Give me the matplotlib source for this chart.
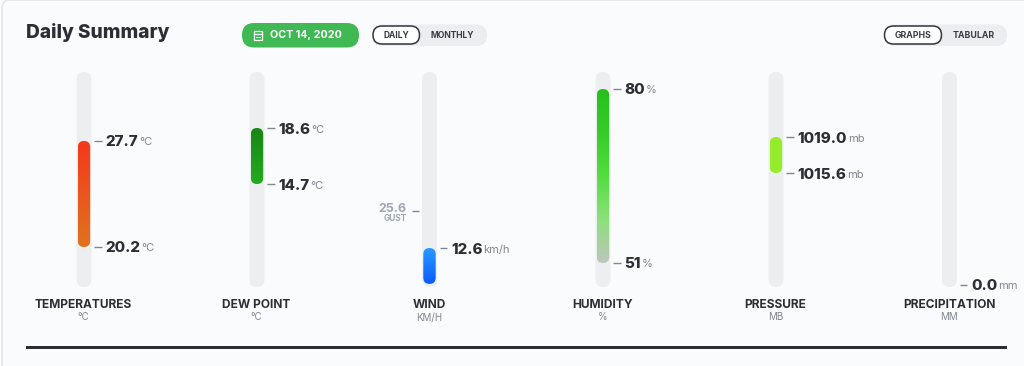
import matplotlib
matplotlib.use("Agg")
import matplotlib.pyplot as plt
import numpy as np
from matplotlib.colors import LinearSegmentedColormap
from matplotlib.patches import FancyBboxPatch, Rectangle
from matplotlib.transforms import IdentityTransform

plt.rcParams['font.family'] = ['Inter', 'DejaVu Sans']

# values
names = ['TEMPERATURES', 'DEW POINT', 'WIND', 'HUMIDITY', 'PRESSURE', 'PRECIPITATION']
subs = ['°C', '°C', 'KM/H', '%', 'MB', 'MM']
units = ['°C', '°C', 'km/h', '%', 'mb', 'mm']
highs = [27.7, 18.6, 12.6, 80, 1019.0, 0.0]
lows = [20.2, 14.7, 0, 51, 1015.6, 0.0]
high_labels = ['27.7', '18.6', '12.6', '80', '1019.0', '0.0']
low_labels = ['20.2', '14.7', None, '51', '1015.6', None]
gust = 25.6
wind_index = 2

# value range of each track, top and bottom
range_top = [32.58, 22.5, 74.35, 82.83, 1025.14, 100]
range_bottom = [17.37, 7.53, -1.08, 47, 1004.84, -0.94]

bar_colors = [
    ['#f5381c', '#df731f'],
    ['#198515', '#23ab1f'],
    ['#2a9aff', '#0a5aff'],
    ['#26c01c', '#35cc28', '#52de40', '#8ce07a', '#bcc6bc'],
    ['#96ec2c', '#96ec2c'],
    None,
]

centers = [84, 257, 429.5, 603, 776, 949.5]

W, H = 1024, 366
BG = '#fafbfd'
DARK = '#2c2e35'
GREY = '#81868f'
TRACK = '#edeef0'

fig = plt.figure(figsize=(W / 100, H / 100), dpi=100, facecolor='white')
main = fig.add_axes([0, 0, 1, 1])
main.set_xlim(0, W)
main.set_ylim(H, 0)
main.axis('off')


def pill(x0, y0, x1, y1, color, edge='none', lw=0, z=2):
    r = (y1 - y0) / 2
    p = FancyBboxPatch((x0 + r, y0 + r), x1 - x0 - 2 * r, 0,
                       boxstyle='round,pad=%f,rounding_size=%f' % (r, r),
                       fc=color, ec=edge, lw=lw, zorder=z)
    main.add_patch(p)


# card
card = FancyBboxPatch((10, 8), W + 30, H + 30, boxstyle='round,pad=8,rounding_size=8',
                      fc=BG, ec='#e6e7ea', lw=1.2, zorder=1)
main.add_patch(card)

main.text(26, 32.5, 'Daily Summary', fontsize=13.7, fontweight=800, color=DARK,
          va='center', ha='left', zorder=3)

# date button
pill(242, 23, 359, 47.5, '#40b955')
main.add_patch(Rectangle((253.5, 31), 8, 9, fc='none', ec='white', lw=0.9, zorder=3))
main.plot([253.5, 261.5], [33.5, 33.5], color='white', lw=0.9, zorder=3)
main.plot([255.5, 259.5], [36.5, 36.5], color='white', lw=0.7, zorder=3)
main.text(270, 35.5, 'OCT 14, 2020', fontsize=7.7, fontweight='bold', color='white',
          va='center', ha='left', zorder=3)

# toggles
pill(372, 24.5, 487, 46, '#ecedf0')
pill(373, 26, 419.5, 44, 'white', edge='#33363d', lw=1.1, z=3)
main.text(396, 35.5, 'DAILY', fontsize=6.1, fontweight='bold', color='#3a3d44',
          va='center', ha='center', zorder=4)
main.text(452.5, 35.5, 'MONTHLY', fontsize=6.1, fontweight='bold', color='#3a3d44',
          va='center', ha='center', zorder=4)

pill(883.5, 24.5, 1007, 46, '#ecedf0')
pill(884.5, 26, 941.5, 44, 'white', edge='#33363d', lw=1.1, z=3)
main.text(913, 35.5, 'GRAPHS', fontsize=6.3, fontweight='bold', color='#3a3d44',
          va='center', ha='center', zorder=4)
main.text(973.5, 35.5, 'TABULAR', fontsize=6.3, fontweight='bold', color='#3a3d44',
          va='center', ha='center', zorder=4)

# bottom rule
main.add_patch(Rectangle((26, 346), 981, 3, fc=DARK, ec='none', zorder=3))

# tracks and captions
TRACK_TOP, TRACK_BOTTOM = 72, 287
for c, name, sub in zip(centers, names, subs):
    r = 7.5
    main.add_patch(FancyBboxPatch((c - r + r, TRACK_TOP + r), 0, TRACK_BOTTOM - TRACK_TOP - 2 * r,
                                  boxstyle='round,pad=%f,rounding_size=%f' % (r, r),
                                  fc=TRACK, ec='none', zorder=2))
    main.text(c - 1 if name == 'TEMPERATURES' else c - 0.5, 304.5, name, fontsize=8.6, fontweight='bold',
              color=DARK, va='center', ha='center', zorder=3)
    main.text(c - 0.5, 317.5, sub, fontsize=7, color=GREY, va='center', ha='center', zorder=3)

renderer = fig.canvas.get_renderer()


def reading(ax, y, label, unit):
    # dash, bold number, small unit
    ax.plot([10, 17.5], [y, y], color=GREY, lw=1, clip_on=False, solid_capstyle='butt')
    t = ax.annotate(label, xy=(21.5, y), xytext=(0, -1.5), textcoords='offset pixels',
                    fontsize=10.9, fontweight=800, color=DARK, va='center', ha='left',
                    annotation_clip=False)
    left = ax.transData.transform((-7.5, y))[0]
    x = t.get_window_extent(renderer).x1 - left - 7.5 + 1
    ax.annotate(unit, xy=(x, y), xytext=(0, -1.5), textcoords='offset pixels',
                fontsize=8, color=GREY, va='center', ha='left', annotation_clip=False)


for i, c in enumerate(centers):
    ax = fig.add_axes([(c - 7.5) / W, 1 - TRACK_BOTTOM / H, 15 / W, (TRACK_BOTTOM - TRACK_TOP) / H])
    ax.patch.set_alpha(0)
    ax.axis('off')
    ax.set_xlim(-7.5, 7.5)
    ax.set_ylim(range_bottom[i], range_top[i])

    if bar_colors[i] is not None:
        cmap = LinearSegmentedColormap.from_list('bar%d' % i, bar_colors[i])
        img = ax.imshow(np.linspace(0, 1, 128).reshape(-1, 1), cmap=cmap, aspect='auto',
                        extent=[-6.2, 6.2, lows[i], highs[i]], origin='upper', zorder=3)
        ax.set_xlim(-7.5, 7.5)
        ax.set_ylim(range_bottom[i], range_top[i])
        # round the ends, in pixels
        (x0, y0), (x1, y1) = ax.transData.transform([(-6.2, lows[i]), (6.2, highs[i])])
        r = (x1 - x0) / 2
        clip = FancyBboxPatch((x0 + r, y0 + r), 0, y1 - y0 - 2 * r,
                              boxstyle='round,pad=%f,rounding_size=%f' % (r, r),
                              transform=IdentityTransform())
        img.set_clip_path(clip)

    reading(ax, highs[i], high_labels[i], units[i])
    if low_labels[i] is not None:
        reading(ax, lows[i], low_labels[i], units[i])

    if i == wind_index:
        ax.plot([-17.5, -10.5], [gust, gust], color=GREY, lw=1, clip_on=False, solid_capstyle='butt')
        ax.annotate('%.1f' % gust, xy=(-23, gust), xytext=(0, 2), textcoords='offset pixels',
                    fontsize=9, fontweight='bold', color='#a0a6b2', va='center', ha='right',
                    annotation_clip=False)
        ax.annotate('GUST', xy=(-23, gust), xytext=(0, -7.5), textcoords='offset pixels',
                    fontsize=6, fontweight='bold', color='#a0a6b2', va='center', ha='right',
                    annotation_clip=False)

fig.savefig('out.png', dpi=100, facecolor='white')
